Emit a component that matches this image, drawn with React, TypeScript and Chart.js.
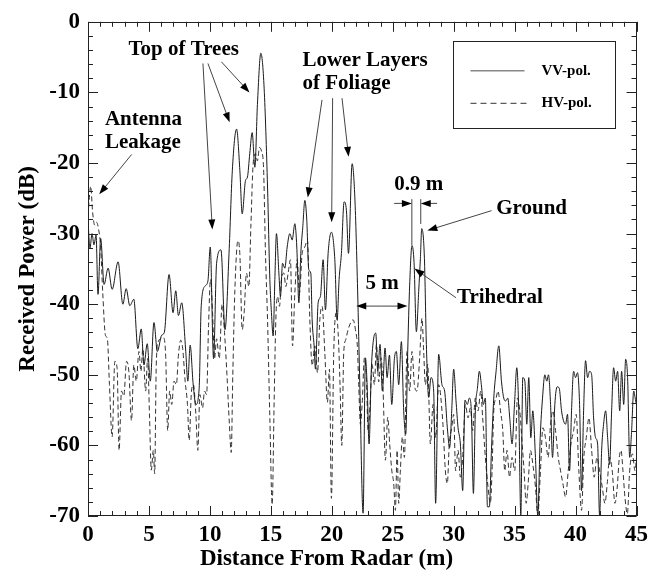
import React, { useEffect, useRef } from "react";
import { Chart, registerables } from "chart.js";

Chart.register(...registerables);

// ---- Data ----
const vvDistance = [
  0.0, 0.16, 0.33, 0.49, 0.66, 0.82, 1.04, 1.32, 1.65, 1.98, 2.47, 2.86, 3.13, 3.43, 3.76, 4.09, 4.37, 4.59, 4.86, 5.11,
  5.41, 5.69, 6.04, 6.26, 6.65, 6.98, 7.2, 7.42, 7.69, 8.02, 8.19, 8.38, 8.63, 8.85, 9.12, 9.29, 9.62, 9.84, 10.03, 10.3,
  10.55, 10.91, 11.24, 11.57, 11.84, 12.19, 12.46, 12.65, 12.92, 13.08, 13.27, 13.47, 13.69, 13.9, 14.18, 14.45, 14.73, 14.92, 15.05, 15.19,
  15.33, 15.46, 15.66, 15.79, 15.96, 16.15, 16.34, 16.56, 16.75, 16.97, 17.13, 17.3, 17.46, 17.62, 17.79, 17.95, 18.11, 18.28, 18.39, 18.55,
  18.66, 18.88, 19.07, 19.29, 19.48, 19.7, 19.97, 20.25, 20.44, 20.6, 20.79, 21.01, 21.2, 21.37, 21.67, 21.89, 22.12, 22.3, 22.57, 22.76,
  22.9, 23.06, 23.25, 23.44, 23.61, 23.77, 23.96, 24.15, 24.37, 24.54, 24.73, 24.92, 25.14, 25.3, 25.49, 25.71, 25.9, 26.07, 26.23, 26.39,
  26.58, 26.75, 26.94, 27.13, 27.27, 27.38, 27.6, 27.76, 27.95, 28.14, 28.36, 28.52, 28.77, 29.04, 29.26, 29.48, 29.67, 29.84, 30.0, 30.19,
  30.36, 30.55, 30.74, 30.93, 31.12, 31.29, 31.45, 31.62, 31.78, 31.95, 32.11, 32.27, 32.44, 32.6, 32.77, 32.93, 33.1, 33.29, 33.48, 33.7,
  33.92, 34.11, 34.27, 34.44, 34.6, 34.79, 34.99, 35.18, 35.34, 35.51, 35.67, 35.84, 36.0, 36.16, 36.33, 36.49, 36.71, 36.9, 37.1, 37.29,
  37.48, 37.64, 37.78, 37.95, 38.11, 38.3, 38.49, 38.66, 38.85, 39.01, 39.18, 39.34, 39.51, 39.67, 39.84, 40.0, 40.16, 40.33, 40.49, 40.66,
  40.82, 40.99, 41.15, 41.32, 41.48, 41.64, 41.81, 41.97, 42.14, 42.3, 42.47, 42.63, 42.79, 42.96, 43.12, 43.29, 43.45, 43.62, 43.78, 43.95,
  44.11, 44.27, 44.44, 44.6, 44.77, 44.93, 45.0,
];
const vvPower = [
  -28.1, -32.1, -30.0, -31.6, -30.2, -38.6, -30.7, -37.2, -34.9, -37.9, -34.0, -40.0, -37.8, -40.2, -39.3, -46.3, -43.5, -48.6, -45.6, -50.9,
  -42.6, -46.7, -44.4, -44.0, -35.8, -41.2, -38.1, -41.6, -39.8, -46.7, -50.9, -45.8, -51.4, -54.2, -51.9, -40.2, -37.4, -36.7, -31.9, -47.7,
  -34.2, -32.3, -43.6, -32.8, -21.1, -15.2, -21.1, -27.2, -22.5, -22.0, -18.7, -15.7, -20.6, -11.7, -4.45, -9.4, -23.4, -36.5, -41.2, -44.5,
  -36.5, -30.0, -35.6, -38.9, -34.2, -34.9, -31.9, -30.0, -30.9, -28.6, -31.9, -39.8, -32.8, -29.1, -25.3, -28.1, -35.1, -35.6, -42.2, -45.9,
  -49.2, -39.8, -38.9, -33.7, -40.8, -32.8, -29.8, -33.7, -42.2, -36.5, -32.8, -25.5, -26.7, -32.8, -20.1, -24.8, -38.0, -51.4, -69.6, -47.6,
  -51.4, -59.8, -49.0, -44.8, -44.1, -49.5, -45.7, -52.3, -46.2, -50.4, -47.2, -54.2, -47.7, -46.7, -51.4, -45.3, -55.1, -58.4, -46.7, -37.3,
  -31.7, -34.1, -43.9, -38.2, -33.5, -29.3, -33.5, -45.7, -53.2, -50.4, -52.3, -68.2, -47.1, -51.4, -52.3, -57.5, -60.3, -55.1, -49.2, -53.6,
  -57.5, -59.8, -66.4, -53.6, -54.2, -53.3, -55.1, -66.8, -55.1, -51.9, -49.5, -51.4, -54.2, -53.3, -68.7, -68.7, -60.7, -53.3, -49.5, -45.9,
  -50.9, -53.3, -53.7, -53.3, -56.1, -59.8, -54.2, -49.0, -55.1, -69.9, -50.4, -50.9, -57.0, -50.4, -58.9, -55.1, -61.7, -69.9, -58.9, -53.3,
  -50.0, -50.9, -50.0, -54.2, -61.7, -54.2, -51.7, -51.9, -55.1, -56.5, -57.0, -55.6, -63.6, -55.1, -49.5, -50.4, -49.7, -54.2, -66.4, -55.1,
  -48.0, -50.4, -49.5, -50.0, -56.1, -58.9, -59.8, -69.9, -60.7, -57.0, -55.1, -58.9, -62.7, -55.1, -49.0, -50.9, -49.5, -55.1, -49.5, -54.2,
  -47.8, -50.4, -61.7, -57.9, -52.3, -53.7, -54.2,
];

const hvDistance = [
  0.0, 0.11, 0.22, 0.38, 0.55, 0.71, 0.88, 1.04, 1.21, 1.43, 1.59, 1.76, 1.98, 2.2, 2.39, 2.55, 2.75, 2.94, 3.16, 3.35,
  3.57, 3.76, 3.96, 4.18, 4.34, 4.5, 4.73, 4.89, 5.05, 5.19, 5.36, 5.47, 5.6, 5.77, 5.96, 6.18, 6.37, 6.54, 6.7, 6.87,
  7.06, 7.25, 7.42, 7.61, 7.77, 7.97, 8.16, 8.3, 8.49, 8.65, 8.85, 9.01, 9.18, 9.4, 9.56, 9.73, 9.89, 10.05, 10.22, 10.38,
  10.55, 10.77, 11.0, 11.2, 11.4, 11.6, 11.75, 11.88, 12.05, 12.3, 12.46, 12.65, 12.81, 13.0, 13.2, 13.36, 13.55, 13.74, 13.9, 14.07,
  14.23, 14.4, 14.56, 14.73, 14.92, 15.11, 15.27, 15.41, 15.55, 15.71, 15.87, 16.07, 16.23, 16.42, 16.61, 16.78, 16.97, 17.16, 17.35, 17.57,
  17.79, 18.0, 18.2, 18.39, 18.61, 18.83, 19.02, 19.21, 19.43, 19.64, 19.81, 19.97, 20.16, 20.36, 20.52, 20.68, 20.82, 20.98, 21.15, 21.34,
  21.56, 21.75, 21.94, 22.1, 22.21, 22.35, 22.49, 22.68, 22.84, 22.98, 23.14, 23.31, 23.5, 23.66, 23.85, 24.04, 24.21, 24.4, 24.59, 24.75,
  24.92, 25.08, 25.22, 25.36, 25.49, 25.63, 25.79, 25.96, 26.17, 26.39, 26.58, 26.78, 26.99, 27.21, 27.4, 27.54, 27.68, 27.87, 28.09, 28.31,
  28.52, 28.77, 29.1, 29.32, 29.48, 29.64, 29.84, 30.0, 30.16, 30.36, 30.55, 30.74, 30.96, 31.18, 31.37, 31.56, 31.78, 32.0, 32.22, 32.38,
  32.6, 32.82, 33.01, 33.15, 33.29, 33.48, 33.64, 33.84, 34.03, 34.19, 34.38, 34.58, 34.79, 35.01, 35.23, 35.45, 35.62, 35.78, 35.95, 36.11,
  36.3, 36.49, 36.71, 36.9, 37.12, 37.32, 37.53, 37.75, 37.95, 38.14, 38.36, 38.58, 38.77, 38.96, 39.18, 39.4, 39.62, 39.84, 40.05, 40.27,
  40.49, 40.68, 40.88, 41.1, 41.32, 41.53, 41.75, 41.97, 42.19, 42.41, 42.6, 42.79, 43.01, 43.23, 43.42, 43.59, 43.73, 43.89, 44.05, 44.25,
  44.44, 44.66, 44.88, 45.0,
];
const hvPower = [
  -27.5, -24.9, -23.3, -27.0, -28.8, -28.4, -29.5, -31.9, -38.4, -44.4, -44.9, -51.4, -58.8, -48.1, -49.1, -60.7, -52.3, -53.0, -48.1, -49.5,
  -56.5, -48.6, -50.9, -46.7, -49.5, -46.3, -52.3, -47.7, -56.0, -63.5, -60.7, -64.0, -48.6, -45.3, -44.9, -44.7, -47.2, -57.9, -52.3, -54.2,
  -50.9, -51.4, -47.2, -45.1, -46.3, -50.9, -54.2, -59.3, -52.3, -51.4, -55.6, -60.7, -52.8, -54.7, -52.3, -52.8, -43.0, -36.5, -41.2, -47.7,
  -44.9, -47.7, -40.0, -44.0, -50.0, -57.0, -61.0, -50.0, -38.0, -31.0, -33.0, -43.6, -41.2, -35.6, -37.5, -29.1, -20.1, -18.7, -19.7, -17.8,
  -18.3, -20.6, -32.8, -42.2, -56.2, -68.4, -53.9, -42.2, -38.9, -40.3, -36.5, -35.6, -37.5, -35.6, -33.7, -45.9, -38.4, -33.7, -38.4, -32.8,
  -31.9, -30.9, -42.2, -48.7, -45.9, -49.7, -42.2, -40.3, -46.9, -53.9, -49.2, -67.5, -46.9, -41.2, -44.0, -51.5, -60.0, -46.9, -45.0, -43.6,
  -42.6, -42.2, -43.6, -46.0, -51.4, -57.0, -54.2, -47.6, -50.4, -57.9, -54.2, -48.5, -51.4, -45.7, -51.0, -47.6, -52.3, -62.1, -56.0, -59.8,
  -63.5, -65.4, -69.2, -60.7, -68.2, -63.5, -58.8, -61.7, -46.7, -52.3, -46.7, -51.4, -52.3, -47.6, -42.0, -46.7, -51.4, -48.5, -59.8, -54.2,
  -58.9, -51.4, -56.5, -63.6, -65.4, -59.8, -57.5, -55.6, -63.6, -60.7, -64.5, -61.7, -54.2, -56.1, -54.7, -57.9, -53.3, -55.1, -52.3, -56.1,
  -61.7, -65.9, -68.2, -63.6, -55.1, -53.3, -52.3, -55.1, -57.9, -63.6, -60.7, -64.5, -61.7, -63.6, -53.3, -55.6, -59.8, -63.6, -68.2, -65.4,
  -60.7, -62.6, -65.9, -69.9, -63.6, -57.5, -58.9, -61.7, -57.0, -55.1, -57.9, -61.7, -63.6, -65.4, -67.3, -63.6, -59.8, -57.9, -55.6, -63.6,
  -69.2, -61.7, -58.9, -56.1, -60.7, -64.5, -61.7, -63.6, -65.9, -68.2, -65.4, -61.7, -63.6, -68.2, -65.9, -61.7, -60.7, -63.6, -67.3, -69.7,
  -63.6, -61.2, -63.6, -61.7,
];

const seriesNames = ["VV-pol.", "HV-pol."];
const xAxisTitle = "Distance From Radar (m)";
const yAxisTitle = "Received Power (dB)";

// annotations placed in data coordinates (m, dB)
const annotationTexts = [
  { lines: ["Top of Trees"], x: 7.85, y: -3.9, align: "center" },
  { lines: ["Antenna", "Leakage"], x: 1.39, y: -13.9, align: "left" },
  { lines: ["Lower Layers", "of Foliage"], x: 17.59, y: -5.5, align: "left" },
  { lines: ["0.9 m"], x: 27.14, y: -23.0, align: "center" },
  { lines: ["Ground"], x: 33.49, y: -26.5, align: "left" },
  { lines: ["Trihedral"], x: 30.27, y: -39.0, align: "left" },
  { lines: ["5 m"], x: 24.14, y: -37.1, align: "center" },
];
// [fromX, fromY, toX, toY] : arrow head at "to"
const arrowLines = [
  [3.58, -18.79, 0.92, -24.42],
  [9.43, -5.9, 10.2, -29.42],
  [9.84, -5.9, 11.62, -14.24],
  [10.94, -5.66, 13.25, -10.02],
  [19.2, -11.06, 18.03, -24.88],
  [20.07, -10.82, 19.99, -28.39],
  [20.84, -10.82, 21.38, -19.12],
  [33.11, -26.75, 27.84, -29.56],
  [30.19, -39.08, 26.78, -34.96],
  [25.12, -25.72, 26.57, -25.72],
  [28.64, -25.72, 27.3, -25.72],
  [24.1, -40.27, 22.01, -40.27],
  [24.1, -40.27, 26.21, -40.27],
];
// [x, yTop, yBottom]
const guideLines = [
  [26.57, -25.12, -31.67],
  [27.3, -25.12, -28.63],
];

const FONT = '"Liberation Serif", "Times New Roman", Times, serif';

const overlayPlugin = {
  id: "overlay",
  afterDatasetsDraw(chart: any) {
    const { ctx, chartArea: a, scales } = chart;
    const xs = scales.x;
    const ys = scales.y;
    const px = (v: number) => xs.getPixelForValue(v);
    const py = (v: number) => ys.getPixelForValue(v);
    ctx.save();

    // frame
    ctx.strokeStyle = "#222";
    ctx.lineWidth = 1;
    ctx.setLineDash([]);
    ctx.strokeRect(Math.round(a.left) + 0.5, Math.round(a.top) + 0.5, Math.round(a.right - a.left) - 1, Math.round(a.bottom - a.top) - 1);

    // inward ticks on all four sides
    ctx.beginPath();
    for (let m = 0; m <= 45; m += 1) {
      const x = Math.round(px(m)) + 0.5;
      const len = m % 5 === 0 ? 10 : 5;
      ctx.moveTo(x, a.bottom);
      ctx.lineTo(x, a.bottom - len);
      ctx.moveTo(x, a.top);
      ctx.lineTo(x, a.top + len);
    }
    for (let d = -70; d <= 0; d += 2) {
      const y = Math.round(py(d)) + 0.5;
      const len = d % 10 === 0 ? 10 : 5;
      ctx.moveTo(a.left, y);
      ctx.lineTo(a.left + len, y);
      ctx.moveTo(a.right, y);
      ctx.lineTo(a.right - len, y);
    }
    ctx.stroke();

    // annotation lines and arrows
    ctx.strokeStyle = "#444";
    ctx.fillStyle = "#000";
    ctx.lineWidth = 1;
    for (const g of guideLines) {
      ctx.beginPath();
      ctx.moveTo(px(g[0]), py(g[1]));
      ctx.lineTo(px(g[0]), py(g[2]));
      ctx.stroke();
    }
    for (const ar of arrowLines) {
      const x1 = px(ar[0]), y1 = py(ar[1]), x2 = px(ar[2]), y2 = py(ar[3]);
      const ang = Math.atan2(y2 - y1, x2 - x1);
      const hl = 10, hw = 3.5;
      ctx.beginPath();
      ctx.moveTo(x1, y1);
      ctx.lineTo(x2 - Math.cos(ang) * hl * 0.8, y2 - Math.sin(ang) * hl * 0.8);
      ctx.stroke();
      ctx.beginPath();
      ctx.moveTo(x2, y2);
      ctx.lineTo(x2 - Math.cos(ang) * hl - Math.sin(ang) * hw, y2 - Math.sin(ang) * hl + Math.cos(ang) * hw);
      ctx.lineTo(x2 - Math.cos(ang) * hl + Math.sin(ang) * hw, y2 - Math.sin(ang) * hl - Math.cos(ang) * hw);
      ctx.closePath();
      ctx.fill();
    }

    // annotation texts
    ctx.fillStyle = "#000";
    ctx.font = `bold 21px ${FONT}`;
    ctx.textBaseline = "middle";
    for (const t of annotationTexts) {
      ctx.textAlign = t.align as CanvasTextAlign;
      t.lines.forEach((ln, i) => {
        ctx.fillText(ln, px(t.x), py(t.y) + i * 23);
      });
    }

    // x axis title, centred on the whole figure
    ctx.font = `bold 23px ${FONT}`;
    ctx.textAlign = "center";
    ctx.fillText(xAxisTitle, chart.width / 2, a.bottom + 43);

    // legend box
    const lx = a.right - 184;
    const ly = a.top + 19;
    ctx.strokeStyle = "#222";
    ctx.lineWidth = 1;
    ctx.strokeRect(Math.round(lx) + 0.5, Math.round(ly) + 0.5, 162, 87);
    ctx.strokeStyle = "#888";
    ctx.lineWidth = 1.5;
    ctx.beginPath();
    ctx.moveTo(lx + 18, ly + 30);
    ctx.lineTo(lx + 72, ly + 30);
    ctx.stroke();
    ctx.strokeStyle = "#333";
    ctx.lineWidth = 1;
    ctx.setLineDash([6, 4]);
    ctx.beginPath();
    ctx.moveTo(lx + 18, ly + 62.5);
    ctx.lineTo(lx + 74, ly + 62.5);
    ctx.stroke();
    ctx.setLineDash([]);
    ctx.font = `bold 15px ${FONT}`;
    ctx.textAlign = "left";
    ctx.fillText(seriesNames[0], lx + 89, ly + 30);
    ctx.fillText(seriesNames[1], lx + 89, ly + 62);

    ctx.restore();
  },
};

export default function App() {
  const ref = useRef<HTMLCanvasElement | null>(null);

  useEffect(() => {
    if (!ref.current) return;
    const vvData = vvDistance.map((x, i) => ({ x, y: vvPower[i] }));
    const hvData = hvDistance.map((x, i) => ({ x, y: hvPower[i] }));
    const chart = new Chart(ref.current, {
      type: "line",
      data: {
        datasets: [
          {
            label: seriesNames[0],
            data: vvData,
            borderColor: "#1a1a1a",
            borderWidth: 1,
            pointRadius: 0,
            cubicInterpolationMode: "monotone",
            fill: false,
          },
          {
            label: seriesNames[1],
            data: hvData,
            borderColor: "#333",
            borderWidth: 1,
            borderDash: [5, 3],
            pointRadius: 0,
            cubicInterpolationMode: "monotone",
            fill: false,
          },
        ],
      },
      options: {
        animation: false,
        responsive: false,
        devicePixelRatio: 1,
        layout: { padding: { top: 18, right: 15, left: 0, bottom: 0 } },
        plugins: { legend: { display: false }, tooltip: { enabled: false } },
        scales: {
          x: {
            type: "linear",
            min: 0,
            max: 45,
            grid: { display: false, drawTicks: false },
            border: { display: false },
            ticks: {
              stepSize: 5,
              padding: 5,
              color: "#000",
              font: { family: FONT, size: 23, weight: "bold" },
              maxRotation: 0,
            },
            title: { display: false },
            afterFit: (s: any) => {
              s.height = 60;
            },
          },
          y: {
            type: "linear",
            min: -70,
            max: 0,
            grid: { display: false, drawTicks: false },
            border: { display: false },
            ticks: {
              stepSize: 10,
              padding: 8,
              color: "#000",
              font: { family: FONT, size: 23, weight: "bold" },
            },
            title: {
              display: true,
              text: yAxisTitle,
              color: "#000",
              font: { family: FONT, size: 23, weight: "bold" },
              padding: { top: 14, bottom: 0 },
            },
            afterFit: (s: any) => {
              s.width = 88;
            },
          },
        },
      },
      plugins: [overlayPlugin],
    });
    return () => chart.destroy();
  }, []);

  return (
    <div style={{ position: "fixed", left: 0, top: 0, width: 653, height: 576, background: "#fff" }}>
      <canvas ref={ref} width={653} height={576} style={{ width: 653, height: 576, display: "block" }} />
    </div>
  );
}
